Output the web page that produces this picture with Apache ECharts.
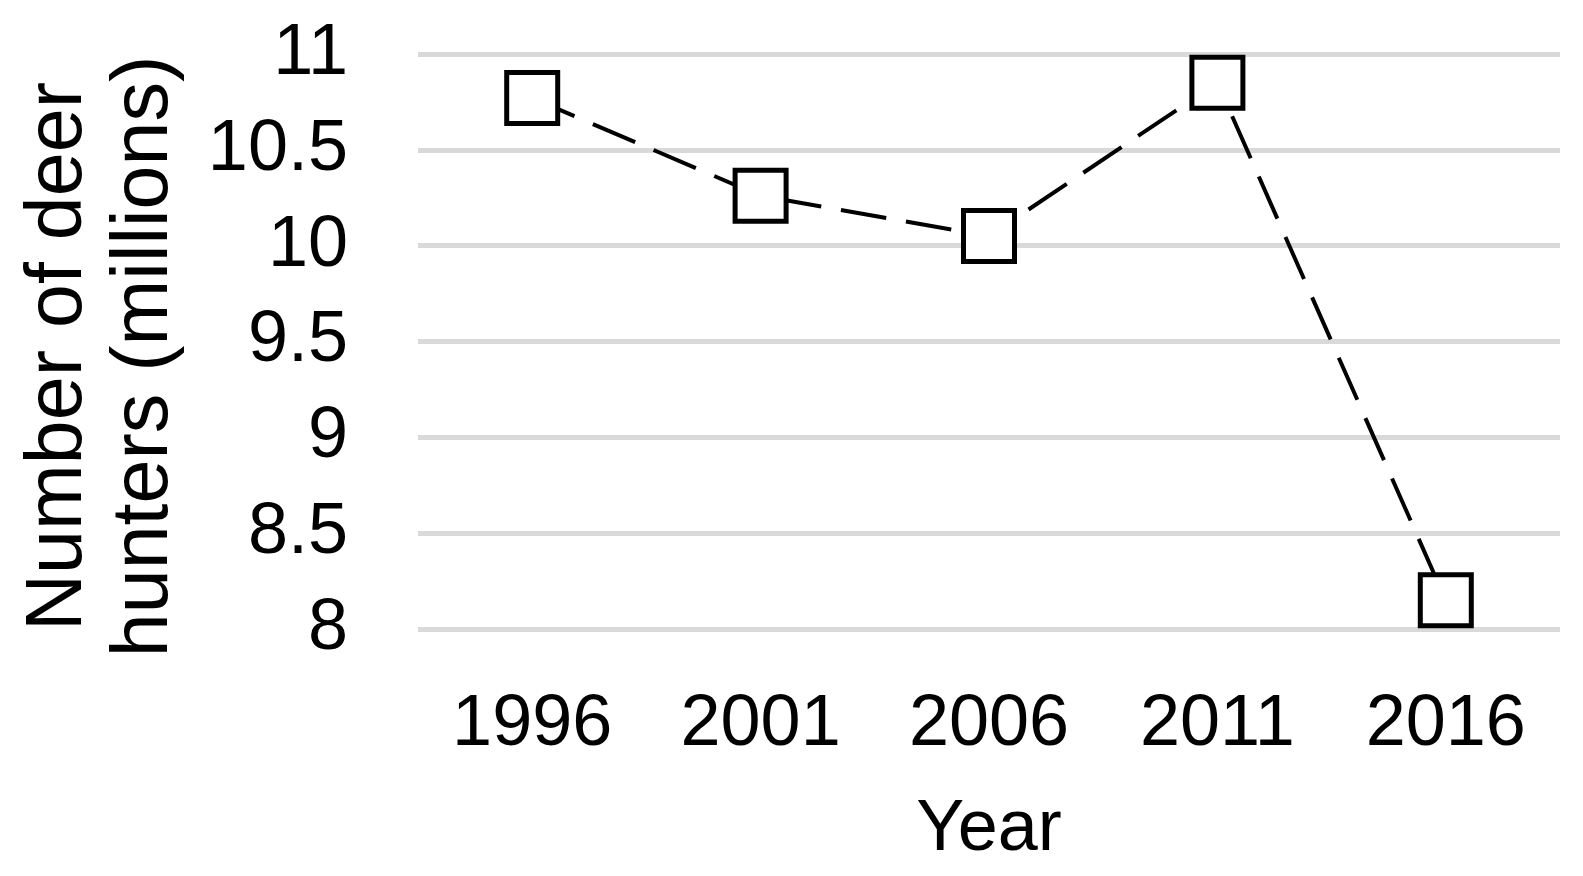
<!DOCTYPE html>
<html>
<head>
<meta charset="utf-8">
<title>Deer hunters</title>
<script src="https://cdn.jsdelivr.net/npm/echarts@6/dist/echarts.min.js"></script>
<style>
  html, body { margin: 0; padding: 0; background: #fff; }
  #chart { width: 1583px; height: 876px; }
</style>
</head>
<body>
<div id="chart"></div>
<script>
// survey years
var years = ["1996", "2001", "2006", "2011", "2016"];
// deer hunters, millions
var hunters = [10.77, 10.26, 10.05, 10.85, 8.15];
// y axis range
var yMin = 8;
var yMax = 11;
var yStep = 0.5;

var font = "'Liberation Sans', Arial, sans-serif";

var chart = echarts.init(document.getElementById("chart"));
chart.setOption({
  animation: false,
  backgroundColor: "#fff",
  grid: {
    left: 418,
    right: 23,
    top: 54,
    bottom: 247,
    containLabel: false
  },
  xAxis: {
    type: "category",
    data: years,
    boundaryGap: true,
    name: "Year",
    nameLocation: "middle",
    nameGap: 165,
    nameTextStyle: { fontFamily: font, fontSize: 72, color: "#000" },
    axisLine: { show: false },
    axisTick: { show: false },
    axisLabel: {
      margin: 60,
      fontFamily: font,
      fontSize: 72,
      color: "#000"
    }
  },
  yAxis: {
    type: "value",
    min: yMin,
    max: yMax,
    interval: yStep,
    name: "Number of deer\nhunters (millions)",
    nameLocation: "middle",
    nameRotate: 90,
    nameGap: 230,
    nameTextStyle: {
      fontFamily: font,
      fontSize: 79,
      lineHeight: 86,
      color: "#000",
      padding: [0, 30, 0, 0]
    },
    axisLine: { show: false },
    axisTick: { show: false },
    axisLabel: {
      margin: 70,
      fontFamily: font,
      fontSize: 72,
      color: "#000"
    },
    splitLine: {
      show: true,
      lineStyle: { color: "#d9d9d9", width: 5 }
    }
  },
  series: [
    {
      name: "Deer hunters",
      type: "line",
      data: hunters,
      symbol: "rect",
      symbolSize: 51,
      itemStyle: {
        color: "#fff",
        borderColor: "#000",
        borderWidth: 5
      },
      lineStyle: {
        color: "#000",
        width: 4,
        type: [46, 20]
      }
    }
  ]
});
</script>
</body>
</html>
